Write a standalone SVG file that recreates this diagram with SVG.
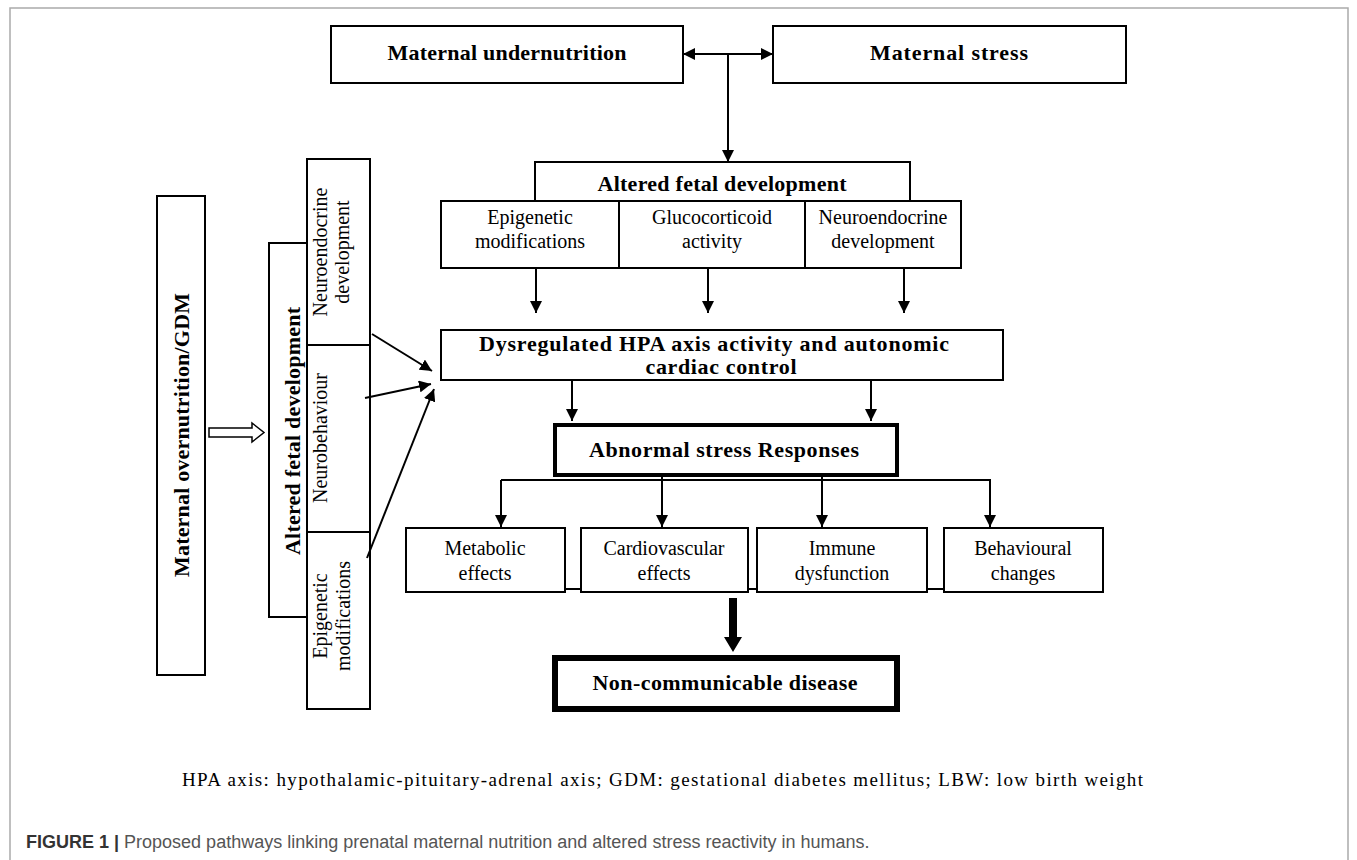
<svg xmlns="http://www.w3.org/2000/svg" width="1357" height="860" viewBox="0 0 1357 860">
<style>
.bx{fill:#fff;stroke:#000;stroke-width:2}
.thick{fill:#fff;stroke:#000;stroke-width:4}
.thicker{fill:#fff;stroke:#000;stroke-width:6}
.b{font-family:"Liberation Serif",serif;font-weight:bold;font-size:22px;fill:#000;text-anchor:middle}
.r{font-family:"Liberation Serif",serif;font-size:20px;fill:#000;text-anchor:middle}
.ln{stroke:#000;stroke-width:2;fill:none}
</style>
<defs>
<marker id="ah" viewBox="0 0 12 12" refX="12" refY="6" markerWidth="12" markerHeight="12" markerUnits="userSpaceOnUse" orient="auto-start-reverse">
<path d="M0,0 L12,6 L0,12 Z" fill="#000"/>
</marker>
</defs>
<rect x="10" y="8" width="1338" height="870" fill="#fff" stroke="#aaa" stroke-width="1.5"/>

<g id="maternal-undernutrition">
<rect class="bx" x="331" y="26" width="352" height="57"/>
<text class="b" x="507" y="60" textLength="239">Maternal undernutrition</text>
</g>
<g id="maternal-stress">
<rect class="bx" x="773" y="26" width="353" height="57"/>
<text class="b" x="949" y="60" textLength="158">Maternal stress</text>
</g>

<g id="altered-fetal-development">
<rect class="bx" x="535" y="162" width="375" height="39"/>
<text class="b" x="722" y="191" textLength="249">Altered fetal development</text>
<rect class="bx" x="441" y="201" width="178" height="67"/>
<text class="r" x="530" y="224">Epigenetic</text>
<text class="r" x="530" y="248">modifications</text>
<rect class="bx" x="619" y="201" width="186" height="67"/>
<text class="r" x="712" y="224">Glucocorticoid</text>
<text class="r" x="712" y="248">activity</text>
<rect class="bx" x="805" y="201" width="156" height="67"/>
<text class="r" x="883" y="224">Neuroendocrine</text>
<text class="r" x="883" y="248">development</text>
</g>

<g id="dysregulated-hpa">
<rect class="bx" x="441" y="330" width="562" height="50"/>
<text class="b" x="714" y="351" textLength="470">Dysregulated HPA axis activity and autonomic</text>
<text class="b" x="721" y="374" textLength="151">cardiac control</text>
</g>

<g id="abnormal-stress-responses">
<rect class="thick" x="555" y="425" width="342" height="50"/>
<text class="b" x="724" y="457" textLength="270">Abnormal stress Responses</text>
</g>

<g id="metabolic-effects">
<rect class="bx" x="406" y="528" width="159" height="64"/>
<text class="r" x="485" y="555">Metabolic</text>
<text class="r" x="485" y="580">effects</text>
</g>
<g id="cardiovascular-effects">
<rect class="bx" x="581" y="528" width="167" height="64"/>
<text class="r" x="664" y="555">Cardiovascular</text>
<text class="r" x="664" y="580">effects</text>
</g>
<g id="immune-dysfunction">
<rect class="bx" x="757" y="528" width="170" height="64"/>
<text class="r" x="842" y="555">Immune</text>
<text class="r" x="842" y="580">dysfunction</text>
</g>
<g id="behavioural-changes">
<rect class="bx" x="944" y="528" width="159" height="64"/>
<text class="r" x="1023" y="555">Behavioural</text>
<text class="r" x="1023" y="580">changes</text>
</g>

<g id="non-communicable-disease">
<rect class="thicker" x="555" y="658" width="342" height="51"/>
<text class="b" x="725" y="690" textLength="265">Non-communicable disease</text>
</g>

<g id="maternal-overnutrition-gdm">
<rect class="bx" x="157" y="196" width="48" height="479"/>
<text class="b" transform="translate(189,435) rotate(-90)" x="0" y="0" textLength="284">Maternal overnutrition/GDM</text>
</g>

<g id="altered-fetal-development-left">
<rect class="bx" x="269" y="243" width="38" height="374"/>
<text class="b" transform="translate(300,431) rotate(-90)" x="0" y="0" textLength="248">Altered fetal development</text>
</g>
<g id="neuroendocrine-development-left">
<rect class="bx" x="307" y="159" width="63" height="186"/>
<text class="r" transform="translate(327,252) rotate(-90)" x="0" y="0">Neuroendocrine</text>
<text class="r" transform="translate(349,252) rotate(-90)" x="0" y="0">development</text>
</g>
<g id="neurobehaviour-left">
<rect class="bx" x="307" y="345" width="63" height="187"/>
<text class="r" transform="translate(327,438) rotate(-90)" x="0" y="0">Neurobehaviour</text>
</g>
<g id="epigenetic-modifications-left">
<rect class="bx" x="307" y="532" width="63" height="177"/>
<text class="r" transform="translate(327,616) rotate(-90)" x="0" y="0">Epigenetic</text>
<text class="r" transform="translate(350,616) rotate(-90)" x="0" y="0">modifications</text>
</g>

<g id="connectors">
<line class="ln" x1="683" y1="54" x2="773" y2="54" marker-start="url(#ah)" marker-end="url(#ah)"/>
<line class="ln" x1="728" y1="54" x2="728" y2="162" marker-end="url(#ah)"/>
<line class="ln" x1="536" y1="268" x2="536" y2="313" marker-end="url(#ah)"/>
<line class="ln" x1="708" y1="268" x2="708" y2="313" marker-end="url(#ah)"/>
<line class="ln" x1="904" y1="268" x2="904" y2="313" marker-end="url(#ah)"/>
<line class="ln" x1="572" y1="380" x2="572" y2="421" marker-end="url(#ah)"/>
<line class="ln" x1="871" y1="380" x2="871" y2="421" marker-end="url(#ah)"/>
<line class="ln" x1="501" y1="480" x2="991" y2="480"/>
<line class="ln" x1="501" y1="480" x2="501" y2="527" marker-end="url(#ah)"/>
<line class="ln" x1="662" y1="477" x2="662" y2="527" marker-end="url(#ah)"/>
<line class="ln" x1="822" y1="477" x2="822" y2="527" marker-end="url(#ah)"/>
<line class="ln" x1="990" y1="480" x2="990" y2="527" marker-end="url(#ah)"/>
<line class="ln" x1="565" y1="589" x2="581" y2="589"/>
<line class="ln" x1="748" y1="589" x2="757" y2="589"/>
<line class="ln" x1="927" y1="589" x2="944" y2="589"/>
<path d="M729,598 L737,598 L737,637 L742,637 L733,652 L724,637 L729,637 Z" fill="#000"/>
<line class="ln" x1="372" y1="334" x2="432" y2="371" marker-end="url(#ah)"/>
<line class="ln" x1="365" y1="398" x2="431" y2="384" marker-end="url(#ah)"/>
<line class="ln" x1="367" y1="558" x2="434" y2="389" marker-end="url(#ah)"/>
<path d="M209,428 L252,428 L252,423 L264,432.5 L252,442 L252,437 L209,437 Z" fill="#fff" stroke="#000" stroke-width="1.5"/>
</g>

<text x="182" y="786" font-family="Liberation Serif, serif" font-size="19" fill="#000" textLength="961">HPA axis: hypothalamic-pituitary-adrenal axis; GDM: gestational diabetes mellitus; LBW: low birth weight</text>
<text x="26" y="848" font-family="Liberation Sans, Arial, sans-serif" font-size="18" fill="#555"><tspan font-weight="bold" fill="#333">FIGURE 1 |</tspan> Proposed pathways linking prenatal maternal nutrition and altered stress reactivity in humans.</text>
</svg>
